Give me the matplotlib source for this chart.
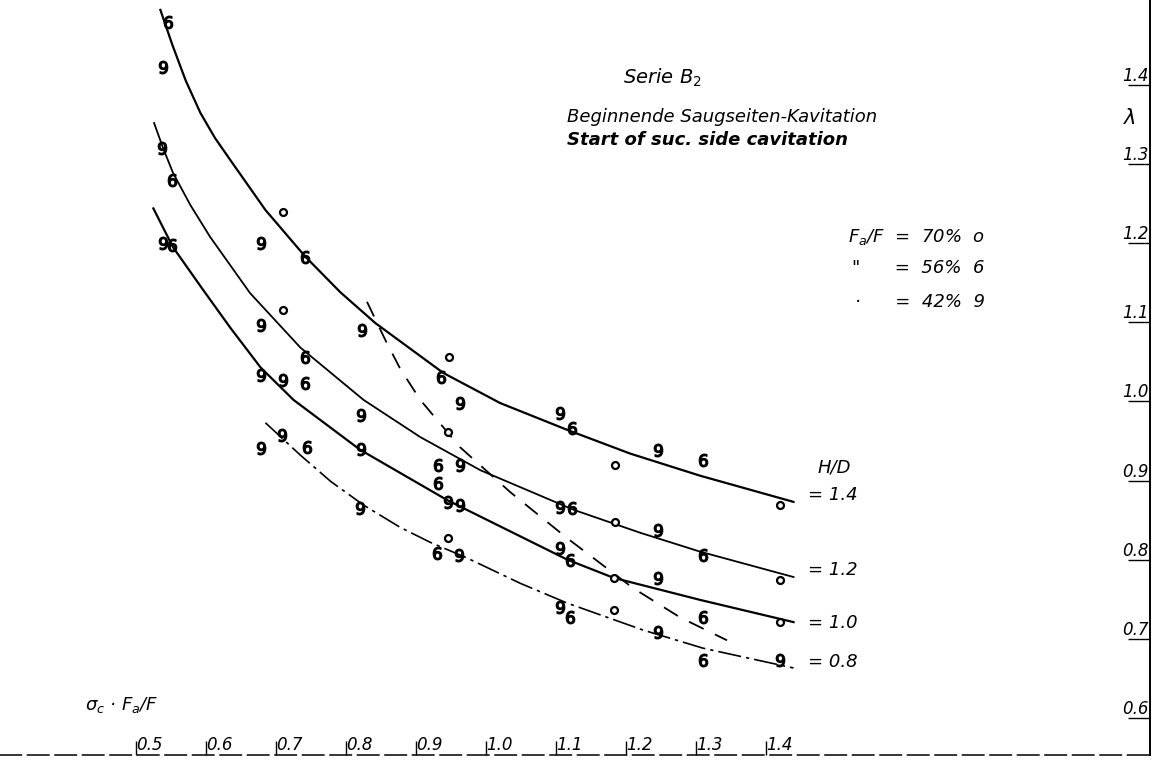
import matplotlib
matplotlib.use("Agg")
import matplotlib.pyplot as plt

# curves lambda over sigma_c * Fa/F, one per H/D
x_14 = [0.535, 0.552, 0.571, 0.592, 0.613, 0.635, 0.685, 0.742, 0.792, 0.842,
        0.939, 1.020, 1.116, 1.206, 1.306, 1.439]
y_14 = [1.495, 1.451, 1.406, 1.365, 1.333, 1.305, 1.242, 1.183, 1.138, 1.099,
        1.036, 0.998, 0.964, 0.934, 0.906, 0.873]

x_12 = [0.526, 0.539, 0.553, 0.578, 0.606, 0.663, 0.735, 0.825, 0.906, 0.992,
        1.125, 1.220, 1.306, 1.439]
y_12 = [1.352, 1.320, 1.289, 1.248, 1.208, 1.137, 1.068, 1.002, 0.955, 0.913,
        0.863, 0.834, 0.810, 0.778]

x_10 = [0.525, 0.553, 0.596, 0.635, 0.678, 0.725, 0.820, 0.945, 1.116, 1.182, 1.306, 1.439]
y_10 = [1.244, 1.195, 1.141, 1.093, 1.043, 1.002, 0.939, 0.875, 0.800, 0.777, 0.749, 0.721]

x_08 = [0.685, 0.735, 0.778, 0.825, 0.877, 0.920, 0.973, 1.049, 1.116, 1.224, 1.310, 1.439]
y_08 = [0.973, 0.932, 0.899, 0.869, 0.841, 0.822, 0.802, 0.770, 0.745, 0.711, 0.688, 0.663]

# dashed limit line
x_dash = [0.830, 0.856, 0.877, 0.906, 0.963, 1.035, 1.116, 1.210, 1.277, 1.344]
y_dash = [1.126, 1.078, 1.042, 1.002, 0.942, 0.885, 0.827, 0.764, 0.727, 0.698]

# measured points, Fa/F = 70 %
x_70 = [0.710, 0.710, 0.947, 0.946, 0.946, 1.184, 1.420, 1.184, 1.420, 1.182, 1.420, 1.182]
y_70 = [1.239, 1.116, 1.056, 0.961, 0.827, 0.920, 0.869, 0.848, 0.774, 0.777, 0.721, 0.736]

# Fa/F = 56 %
x_56 = [0.546, 0.552, 0.552, 0.742, 0.742, 0.742, 0.935, 0.744, 0.932, 0.932,
        0.930, 1.123, 1.310, 1.123, 1.310, 1.120, 1.310, 1.120, 1.310]
y_56 = [1.480, 1.280, 1.198, 1.183, 1.056, 1.023, 1.031, 0.942, 0.920, 0.897,
        0.808, 0.966, 0.926, 0.865, 0.806, 0.800, 0.727, 0.727, 0.673]

# Fa/F = 42 %
x_42 = [0.539, 0.538, 0.539, 0.679, 0.679, 0.678, 0.710, 0.823, 0.963, 0.822,
        0.678, 0.709, 0.822, 0.963, 0.946, 0.963, 0.820, 0.962, 1.106, 1.246,
        1.106, 1.246, 1.106, 1.246, 1.106, 1.246, 1.420]
y_42 = [1.423, 1.320, 1.200, 1.200, 1.097, 1.033, 1.027, 1.090, 0.998, 0.983,
        0.941, 0.958, 0.940, 0.920, 0.873, 0.869, 0.865, 0.806, 0.985, 0.939,
        0.866, 0.837, 0.815, 0.777, 0.740, 0.708, 0.673]

x_ticks = [0.5, 0.6, 0.7, 0.8, 0.9, 1.0, 1.1, 1.2, 1.3, 1.4]
y_ticks = [0.6, 0.7, 0.8, 0.9, 1.0, 1.1, 1.2, 1.3, 1.4]

W, H = 1161, 760
plt.rcParams["font.family"] = ["DejaVu Sans"]
plt.rcParams["mathtext.fontset"] = "dejavusans"
plt.rcParams["mathtext.default"] = "it"

fig = plt.figure(figsize=(W / 100, H / 100), dpi=100)
ax = fig.add_axes([0, 5 / H, 1150 / W, 755 / H])
ax.set_xlim(0.306, 1.948)
ax.set_ylim(0.553, 1.5075)

# curves
ax.plot(x_14, y_14, color="black", lw=1.6)
ax.plot(x_12, y_12, color="black", lw=1.3)
ax.plot(x_10, y_10, color="black", lw=1.6)
ax.plot(x_08, y_08, color="black", lw=1.2, dashes=(14, 3, 2, 3))
ax.plot(x_dash, y_dash, color="black", lw=1.3, dashes=(9, 7))

# points
ax.plot(x_70, y_70, ls="none", marker="o", ms=5, mfc="white", mec="black", mew=1.6)
ax.plot(x_56, y_56, ls="none", marker="$6$", ms=9, color="black")
ax.plot(x_42, y_42, ls="none", marker="$9$", ms=9, color="black")

# axes styling
for side in ["left", "top"]:
    ax.spines[side].set_visible(False)
ax.spines["right"].set_linewidth(1.4)
ax.spines["bottom"].set_linewidth(1.1)
ax.spines["bottom"].set_linestyle((0, (14, 4)))

ax.set_xticks(x_ticks)
ax.set_xticklabels([f"{v:.1f}" for v in x_ticks])
ax.tick_params(axis="x", direction="in", length=10, width=1.0, pad=-14,
               labelsize=12, bottom=True, top=False)
for lbl in ax.get_xticklabels():
    lbl.set_horizontalalignment("left")
    lbl.set_style("italic")

ax.set_yticks(y_ticks)
ax.set_yticklabels([f"{v:.1f}" for v in y_ticks])
ax.tick_params(axis="y", direction="in", length=16, width=1.0, pad=-1,
               labelsize=12, left=False, right=True,
               labelleft=False, labelright=True)
for lbl in ax.get_yticklabels():
    lbl.set_horizontalalignment("right")
    lbl.set_verticalalignment("bottom")
    lbl.set_style("italic")


def ftxt(px, py, s, **kw):
    fig.text(px / W, 1 - py / H, s, style="italic", va="center", **kw)


ftxt(662, 78, "Serie B$_2$", ha="center", fontsize=14)
ftxt(567, 117, "Beginnende Saugseiten-Kavitation", ha="left", fontsize=13)
ftxt(567, 140, "Start of suc. side cavitation", ha="left", fontsize=13,
     fontweight="bold")

ftxt(985, 237, "F$_a$/F  =  70%  o", ha="right", fontsize=13)
ftxt(985, 268, "\"      =  56%  6", ha="right", fontsize=13)
ftxt(985, 302, "\u00b7      =  42%  9", ha="right", fontsize=13)

ftxt(834, 468, "H/D", ha="center", fontsize=13)
ftxt(808, 495, "= 1.4", ha="left", fontsize=13)
ftxt(808, 570, "= 1.2", ha="left", fontsize=13)
ftxt(808, 623, "= 1.0", ha="left", fontsize=13)
ftxt(808, 662, "= 0.8", ha="left", fontsize=13)

ftxt(1130, 118, "\u03bb", ha="center", fontsize=15)
ftxt(85, 705, "\u03c3$_c$ \u00b7 F$_a$/F", ha="left", fontsize=13)

fig.savefig("out.png", dpi=100)
